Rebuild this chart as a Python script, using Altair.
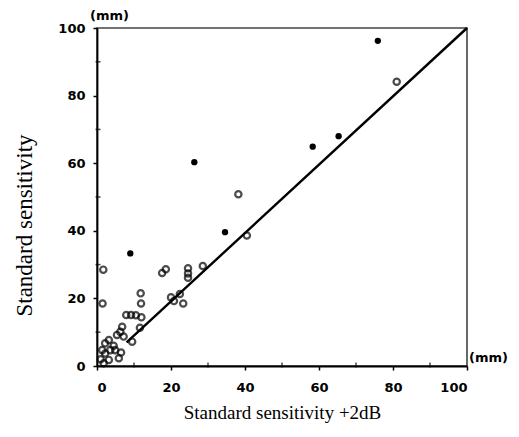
import altair as alt
import pandas as pd

# Data
xs = [75.9, 81.0, 65.3, 58.3, 26.3, 38.2, 34.6, 40.5, 28.6, 24.6, 24.6, 24.6,
      18.6, 17.6, 22.4, 20.0, 20.8, 23.3, 9.0, 1.7, 1.5, 11.8, 11.9, 7.9,
      9.2, 10.5, 12.0, 11.6, 6.8, 6.3, 5.4, 7.2, 9.5, 3.2, 2.2, 1.4,
      3.6, 4.9, 2.2, 5.9, 3.2, 1.8, 4.5, 6.5, 1.0]
ys = [96.2, 84.1, 68.0, 64.9, 60.3, 50.8, 39.6, 38.6, 29.6, 28.9, 27.4, 26.1,
      28.6, 27.5, 21.3, 20.3, 19.2, 18.5, 33.3, 28.5, 18.5, 21.5, 18.5, 15.1,
      15.1, 15.0, 14.4, 11.3, 11.6, 10.1, 9.2, 8.7, 7.2, 7.7, 6.7, 4.7,
      4.7, 4.7, 3.7, 2.3, 1.8, 0.8, 6.0, 4.0, 2.0]
filled = [1, 0, 1, 1, 1, 0, 1, 0, 0, 0, 0, 0,
          0, 0, 0, 0, 0, 0, 1, 0, 0, 0, 0, 0,
          0, 0, 0, 0, 0, 0, 0, 0, 0, 0, 0, 0,
          0, 0, 0, 0, 0, 0, 0, 0, 0]

line_x = [8, 100]
line_y = [7, 100]

tick_vals = [0, 20, 40, 60, 80, 100]
minor_vals = [10, 30, 50, 70, 90]

pts = pd.DataFrame({"x": xs, "y": ys,
                    "kind": ["filled" if f else "open" for f in filled]})
ln = pd.DataFrame({"x": line_x, "y": line_y})

xscale = alt.Scale(domain=[0, 100], nice=False, zero=False)
yscale = alt.Scale(domain=[0, 100], nice=False, zero=False)

label_font = "DejaVu Sans"

xaxis = alt.Axis(values=tick_vals, title="Standard sensitivity +2dB",
                 grid=False, domainColor="black", domainWidth=1.8,
                 tickColor="black", tickSize=4, tickWidth=1.5,
                 labelFont=label_font, labelFontWeight="bold", labelFontSize=13,
                 labelColor="black", labelPadding=11,
                 titleFont="Liberation Serif", titleFontSize=19,
                 titleFontWeight="normal", titleColor="black", titlePadding=9)
yaxis = alt.Axis(values=tick_vals, title="Standard sensitivity",
                 grid=False, domainColor="black", domainWidth=1.8,
                 tickColor="black", tickSize=4, tickWidth=1.5,
                 labelFont=label_font, labelFontWeight="bold", labelFontSize=13,
                 labelColor="black", labelPadding=8,
                 titleFont="Liberation Serif", titleFontSize=23,
                 titleFontWeight="normal", titleColor="black",
                 titleAngle=270, titleAlign="center", titleBaseline="middle",
                 titleX=-73, titleY=197)

points_open = alt.Chart(pts).transform_filter(alt.datum.kind == "open").mark_point(
    shape="circle", filled=False, color="black", size=40, strokeWidth=2.2
).encode(
    x=alt.X("x:Q", scale=xscale, axis=xaxis),
    y=alt.Y("y:Q", scale=yscale, axis=yaxis),
)

points_filled = alt.Chart(pts).transform_filter(alt.datum.kind == "filled").mark_point(
    shape="circle", filled=True, color="black", size=40, opacity=1
).encode(x=alt.X("x:Q", scale=xscale), y=alt.Y("y:Q", scale=yscale))

line = alt.Chart(ln).mark_line(color="black", strokeWidth=2.4).encode(
    x=alt.X("x:Q", scale=xscale), y=alt.Y("y:Q", scale=yscale)
)

# minor ticks along axes
minor = pd.DataFrame({"v": minor_vals})
minor_x = alt.Chart(minor).mark_tick(color="black", thickness=1.5, size=5,
                                     orient="vertical").encode(
    x=alt.X("v:Q", scale=xscale), y=alt.value(337))
minor_y = alt.Chart(minor).mark_tick(color="black", thickness=1.5, size=5,
                                     orient="horizontal").encode(
    y=alt.Y("v:Q", scale=yscale), x=alt.value(1))

unit_df = pd.DataFrame({"x": [0, 100], "y": [100, 0], "t": ["(mm)", "(mm)"],
                        "pos": ["top", "right"]})
unit_top = alt.Chart(unit_df).transform_filter(alt.datum.pos == "top").mark_text(
    font=label_font, fontWeight="bold", fontSize=13, align="left",
    baseline="bottom", dx=-7, dy=-5, color="black"
).encode(x=alt.X("x:Q", scale=xscale), y=alt.Y("y:Q", scale=yscale), text="t:N")
unit_right = alt.Chart(unit_df).transform_filter(alt.datum.pos == "right").mark_text(
    font=label_font, fontWeight="bold", fontSize=13, align="left",
    baseline="bottom", dx=2, dy=-1, color="black"
).encode(x=alt.X("x:Q", scale=xscale), y=alt.Y("y:Q", scale=yscale), text="t:N")

chart = alt.layer(line, points_open, points_filled, minor_x, minor_y,
                  unit_top, unit_right).properties(
    width=370, height=338,
    autosize=alt.AutoSizeParams(type="none"),
    padding={"left": 97, "top": 28, "right": 52, "bottom": 71},
    background="white",
).configure_view(stroke="#444444", strokeWidth=1.6)

chart.save("out.html", embed_options={"renderer": "svg", "actions": False})
